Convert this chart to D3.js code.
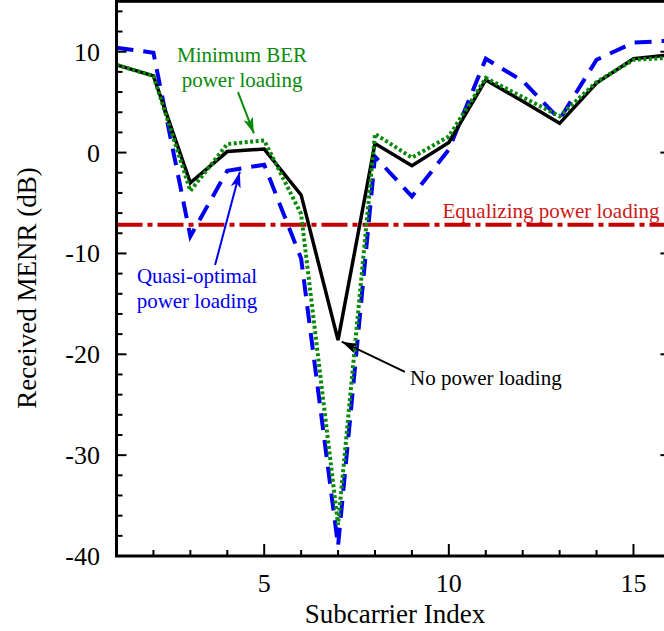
<!DOCTYPE html>
<html>
<head>
<meta charset="utf-8">
<script src="https://cdn.jsdelivr.net/npm/d3@7"></script>
<style>
  html, body { margin: 0; padding: 0; background: #fff; }
  svg { display: block; font-family: "Liberation Serif", "Times New Roman", serif; }
</style>
</head>
<body>
<svg id="chart" width="664" height="631"></svg>
<script>
// ---- data ----
const subcarriers = [1, 2, 3, 4, 5, 6, 7, 8, 9, 10, 11, 12, 13, 14, 15, 16];
const noLoading   = [8.7, 7.6, -3.0, 0.1, 0.35, -4.2, -18.6, 0.9, -1.3, 1.0, 7.2, 5.1, 2.9, 6.9, 9.3, 9.7];
const minBER      = [8.7, 7.6, -3.8, 0.85, 1.2, -6.1, -36.9, 1.85, -0.5, 1.6, 7.4, 5.5, 3.6, 7.0, 9.2, 9.4];
const quasiOpt    = [10.4, 9.9, -8.3, -1.8, -1.2, -10.5, -39.0, -0.4, -4.35, 0.3, 9.3, 7.1, 3.3, 9.2, 10.9, 11.1];
const equalizing  = -7.15;
const xTicks = [5, 10, 15];
const yTicks = [-40, -30, -20, -10, 0, 10];

// ---- layout ----
const svg = d3.select("#chart");
const x = d3.scaleLinear().domain([1, 16]).range([116.5, 670.4]);
const y = d3.scaleLinear().domain([-40, 15]).range([556, 1.3]);

const colors = { none: "#000000", ber: "#0a8a0a", quasi: "#0000ee", eq: "#c40000" };

// arrow markers
const defs = svg.append("defs");
function marker(id, color) {
  defs.append("marker").attr("id", id).attr("viewBox", "0 0 16 10")
    .attr("refX", 16).attr("refY", 5).attr("markerWidth", 16).attr("markerHeight", 10)
    .attr("markerUnits", "userSpaceOnUse").attr("orient", "auto")
    .append("path").attr("d", "M0,0 L16,5 L0,10 L4,5 Z").attr("fill", color);
}
marker("arrG", colors.ber); marker("arrB", colors.quasi); marker("arrK", colors.none);

// clip to plot area
defs.append("clipPath").attr("id", "clip").append("rect")
  .attr("x", x(1)).attr("y", y(15)).attr("width", x(16) - x(1)).attr("height", y(-40) - y(15));

const plot = svg.append("g").attr("clip-path", "url(#clip)");

// equalizing line
plot.append("line").attr("x1", x(1)).attr("x2", x(16)).attr("y1", y(equalizing)).attr("y2", y(equalizing))
  .attr("stroke", colors.eq).attr("stroke-width", 4).attr("stroke-dasharray", "26,5,5,5");

const line = d3.line().x((d, i) => x(subcarriers[i])).y(d => y(d));

plot.append("path").datum(quasiOpt).attr("d", line).attr("fill", "none")
  .attr("stroke", colors.quasi).attr("stroke-width", 4).attr("stroke-dasharray", "17,10");
plot.append("path").datum(noLoading).attr("d", line).attr("fill", "none")
  .attr("stroke", colors.none).attr("stroke-width", 3.5);
plot.append("path").datum(minBER).attr("d", line).attr("fill", "none")
  .attr("stroke", colors.ber).attr("stroke-width", 4).attr("stroke-dasharray", "3,2.5");

// ---- axes ----
const axisG = svg.append("g");
const xMinor = d3.range(1, 17);
const yMinor = d3.range(-40, 16, 2);

// bottom ticks (inward)
axisG.selectAll(".xt").data(xMinor).enter().append("line")
  .attr("x1", d => x(d)).attr("x2", d => x(d))
  .attr("y1", y(-40)).attr("y2", d => y(-40) - (d % 5 === 0 ? 12 : 6))
  .attr("stroke", "#000").attr("stroke-width", 2);
// left / right ticks
[x(1), x(16)].forEach((ax, k) => {
  const dir = k === 0 ? 1 : -1;
  axisG.selectAll(".yt" + k).data(yMinor).enter().append("line")
    .attr("x1", ax).attr("x2", d => ax + dir * (d % 10 === 0 ? 10 : 6))
    .attr("y1", d => y(d)).attr("y2", d => y(d))
    .attr("stroke", "#000").attr("stroke-width", 2);
});
// frame
axisG.append("rect").attr("x", x(1)).attr("y", y(15)).attr("width", x(16) - x(1)).attr("height", y(-40) - y(15))
  .attr("fill", "none").attr("stroke", "#000").attr("stroke-width", 3);

// tick labels
axisG.selectAll(".xl").data(xTicks).enter().append("text")
  .attr("x", d => x(d)).attr("y", 592).attr("text-anchor", "middle")
  .attr("font-size", 26).text(d => d);
axisG.selectAll(".yl").data(yTicks).enter().append("text")
  .attr("x", 100).attr("y", d => y(d) + 9).attr("text-anchor", "end")
  .attr("font-size", 26).text(d => d);

// axis titles
svg.append("text").attr("x", 395).attr("y", 623).attr("text-anchor", "middle")
  .attr("font-size", 27).text("Subcarrier Index");
svg.append("text").attr("transform", "translate(36,288) rotate(-90)").attr("text-anchor", "middle")
  .attr("font-size", 27).text("Received MENR (dB)");

// ---- annotations ----
function label(lines, xd, yd, dy, color, anchor) {
  const t = svg.append("text").attr("fill", color).attr("font-size", 21).attr("text-anchor", anchor);
  lines.forEach((s, i) => t.append("tspan").attr("x", x(xd)).attr("y", y(yd) + i * dy).text(s));
}
function arrow(x1, y1, x2, y2, color, id) {
  svg.append("line").attr("x1", x(x1)).attr("y1", y(y1)).attr("x2", x(x2)).attr("y2", y(y2))
    .attr("stroke", color).attr("stroke-width", 2).attr("marker-end", `url(#${id})`);
}
label(["Minimum BER", "power loading"], 4.4, 9.0, 25, colors.ber, "middle");
arrow(4.29, 6.0, 4.72, 1.9, colors.ber, "arrG");
label(["Quasi-optimal", "power loading"], 3.18, -12.93, 25, colors.quasi, "middle");
arrow(3.67, -11.15, 4.34, -1.9, colors.quasi, "arrB");
label(["No power loading"], 8.95, -23.04, 0, colors.none, "start");
arrow(8.81, -21.75, 7.1, -18.75, colors.none, "arrK");
label(["Equalizing power loading"], 9.83, -6.48, 0, "#cc1a1a", "start");
</script>
</body>
</html>
